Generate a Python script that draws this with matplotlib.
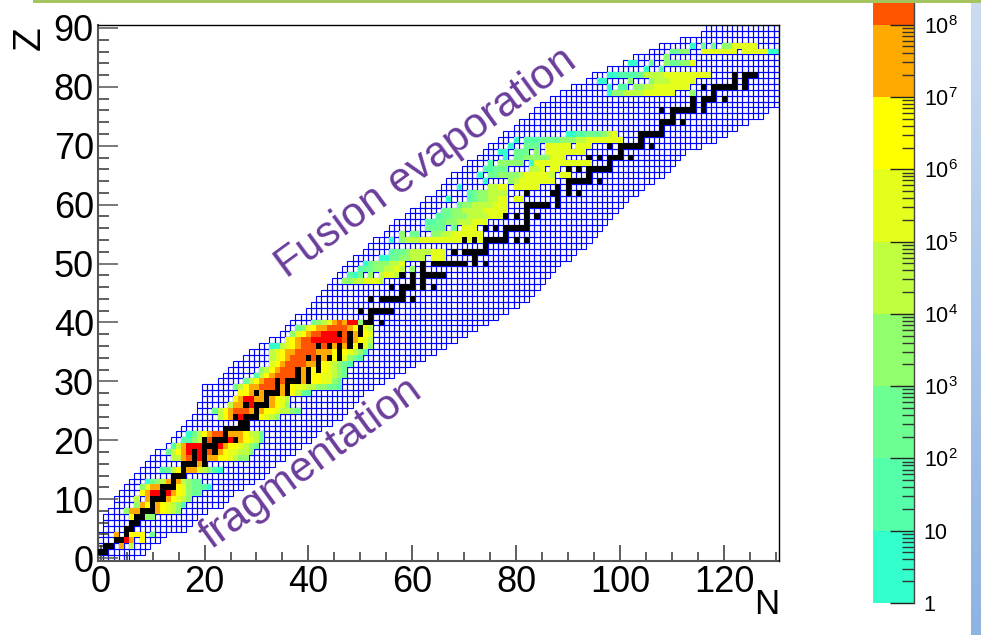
import numpy as np
import matplotlib
matplotlib.use("Agg")
import matplotlib.pyplot as plt
from matplotlib.colors import BoundaryNorm, ListedColormap, LinearSegmentedColormap
from matplotlib.patches import Rectangle
from matplotlib.ticker import FixedLocator, FuncFormatter, LogLocator, NullFormatter, MultipleLocator

plt.rcParams["font.family"] = ["Liberation Sans", "DejaVu Sans"]
plt.rcParams["mathtext.fontset"] = "custom"
plt.rcParams["mathtext.rm"] = "Liberation Sans"

W, H = 981, 635

# blue grid: first and last N for each Z = 0..90
grid_nmin = [0, 0, 0, 0, 0, 1, 1, 1, 2, 3, 3, 4, 5, 6, 7, 8, 9, 10, 11, 13, 14, 15, 16, 17, 18, 19, 19, 20, 20, 20,
             23, 24, 25, 26, 28, 29, 31, 33, 35, 36, 37, 38, 40, 41, 42, 43, 44, 45, 46, 47, 48, 49, 51, 52, 53, 55,
             56, 57, 59, 60, 62, 63, 65, 66, 67, 68, 70, 71, 73, 74, 75, 77, 78, 80, 81, 83, 84, 85, 87, 89, 91, 94,
             95, 98, 101, 103, 106, 108, 112, 116, 117]
grid_nmax = [6, 8, 9, 11, 12, 16, 17, 18, 20, 23, 24, 25, 27, 29, 31, 32, 33, 35, 37, 38, 40, 41, 42, 44, 46, 47, 48,
             49, 50, 52, 54, 56, 58, 60, 62, 64, 66, 68, 70, 72, 74, 76, 78, 80, 82, 83, 84, 85, 86, 87, 88, 90, 91,
             93, 94, 95, 96, 97, 98, 99, 100, 101, 103, 104, 106, 108, 109, 110, 111, 112, 115, 118, 120, 122, 124,
             127, 128, 130, 130, 130, 130, 130, 130, 130, 130, 130, 130, 130, 130, 130, 130]

# black cells
stable_z = list(range(1, 43)) + list(range(44, 83))
stable_n = [[0, 1], [1, 2], [3, 4], [5], [5, 6], [6, 7], [7, 8], [8, 9, 10], [10], [10, 11, 12], [12], [12, 13, 14],
            [14], [14, 15, 16], [16], [16, 17, 18, 20], [18, 20], [18, 20, 22], [20, 21, 22], [20, 22, 23, 24, 26],
            [24], [24, 25, 26, 27, 28], [27, 28], [26, 28, 29, 30], [30], [28, 30, 31, 32], [32],
            [30, 32, 33, 34, 36], [34, 36], [34, 36, 37, 38, 40], [38, 40], [38, 40, 42], [42], [40, 42, 44, 46],
            [46], [42, 44, 46, 48, 50], [48], [46, 48, 50], [50], [51, 52, 54], [52], [50, 52, 53, 54, 55, 56],
            [52, 54, 55, 56, 57, 58, 60], [58], [56, 58, 59, 60, 62, 64], [60, 62], [58, 60, 62, 63, 64, 65, 66],
            [62], [62, 64, 65, 66, 67, 68, 69, 70, 72, 74], [72], [68, 70, 71, 72, 73, 74], [74],
            [70, 72, 74, 75, 76, 77, 78, 80, 82], [78], [74, 76, 78, 79, 80, 81, 82], [82], [78, 80, 82, 84], [82],
            [82, 83, 84, 85, 86, 88], [88], [82, 87, 88, 90, 92], [88, 90], [90, 91, 92, 93, 94, 96], [94],
            [90, 92, 94, 95, 96, 97, 98], [98], [94, 96, 98, 99, 100, 102], [100], [98, 100, 101, 102, 103, 104, 106],
            [104], [104, 105, 106, 107, 108], [108], [108, 109, 110, 112], [110], [108, 110, 111, 112, 113, 114, 116],
            [114, 116], [114, 116, 117, 118, 120], [118], [116, 118, 119, 120, 121, 122, 124], [122, 124],
            [122, 124, 125, 126]]

# yields: one row per Z, first N of the row, then a digit per N = log10 bin ('.' = nothing)
yield_z = [2, 3, 4, 7, 8, 9, 10, 11, 12, 13, 15, 16, 17, 18, 19, 20, 21, 24, 25, 26, 27, 28, 29, 30, 31, 32, 33, 34,
           35, 36, 37, 38, 39, 40, 47, 48, 49, 50, 51, 52, 54, 55, 56, 57, 58, 59, 60, 61, 62, 63, 64, 65, 66, 67,
           68, 69, 70, 71, 72, 79, 80, 81, 82, 83, 84, 85, 86, 87]
yield_n0 = [4, 5, 3, 6, 5, 7, 7, 8, 8, 9, 12, 19, 14, 13, 14, 16, 17, 23, 22, 25, 26, 27, 26, 28, 30, 31, 33, 33,
            33, 33, 36, 37, 38, 41, 47, 48, 50, 51, 54, 56, 56, 58, 63, 63, 65, 66, 69, 67, 71, 69, 74, 73, 74, 75,
            78, 77, 79, 80, 90, 98, 98, 96, 98, 105, 102, 109, 110, 114]
yield_bins = ["7.4", "97.6", "7..666.2", "6..33", "377...76543", "376.765431", "4.7...76543", "6799.9765322",
              "3577...6532210", "02347.74322", "1246.7754310", "7", "4478.9.77665433", "24679.9.8.7655443",
              "147999...97665432", "1134.8...9.76542", "024678877776442", "467.9...6543", "24678887.76654432",
              "477.9...7653", "679977.7654", "667.7...7.6421", "24677888.7.6554433221", "246788.8...7.665532",
              "14678888.7.6655432", "3467888.7.6.65432", "5678888776654321", "4567888.8.7.6.5321",
              "4567788887776.65431", "004567888.8.7.7.6.53", "567889999998.7654", "356788999.8.7.65",
              "235677888876654", "2345787993",
              "33445554", "102.3.4554", "122334454.3", "02333445", "002233444.555", "12234444555",
              "0.3444555555555555", "3.22..3344555555", "2222.2.555", "112233444555", "1223334444555",
              "2233444455555", "2334444555", "0...12334455.55", "12334444", "0.....4455.55555",
              "0....345555555", "0.2233334555554.55", "11222....445.55", "1.33333.055555555555",
              "0.2233333555", "00.222.3.55555555", "0..222.55555.555", "0.1112222333445555555", "0011222345",
              "0334444555555...3", "0.11.33445555555", "00....3...344455555", "00111124444555555555", "0..1",
              "00..2..322335", "3", "2233..5555555.5555500", "0.2.2.3355555"]

bin_edges = [1, 1e1, 1e2, 1e3, 1e4, 1e5, 1e6, 1e7, 1e8, 2e8, 1e9]
bin_colors = ["#33ffcc", "#55ffaa", "#6dff91", "#91ff6d", "#bfff3f", "#e3ff1b", "#ffff00", "#ffaa00", "#ff5500", "#ff0000"]

n_edges = np.arange(-0.5, 131.5)
z_edges = np.arange(-0.5, 91.5)


def px_axes(x0, y0, x1, y1):
    return fig.add_axes([x0 / W, 1 - y1 / H, (x1 - x0) / W, (y1 - y0) / H])


fig = plt.figure(figsize=(W / 100, H / 100), dpi=100, facecolor="white")

# slide decoration on the right and on top
side = px_axes(971, 3, 981, 635)
side.imshow(np.linspace(0, 1, 200)[:, None], aspect="auto",
            cmap=LinearSegmentedColormap.from_list("side", ["#cbdcf0", "#8fb3e2"]))
side.axis("off")
fig.add_artist(Rectangle((33 / W, 1 - 2.6 / H), 1 - 33 / W, 2.6 / H, transform=fig.transFigure, color="#a5c35f", lw=0))

ax = px_axes(98, 25, 778.7, 561)
cmap = ListedColormap(bin_colors)
norm = BoundaryNorm(bin_edges, cmap.N)

# nuclide grid
for z, (a, b) in enumerate(zip(grid_nmin, grid_nmax)):
    ns = np.arange(a, b + 1)
    ax.bar(ns, 1.0, bottom=z - 0.5, width=1.0, fill=False, edgecolor="#0000ff", linewidth=0.8, zorder=1)

counts = np.full((91, 131), np.nan)
for z, n0, row in zip(yield_z, yield_n0, yield_bins):
    for i, ch in enumerate(row):
        if ch != ".":
            counts[z, n0 + i] = 10 ** (int(ch) + 0.1)
ax.pcolormesh(n_edges, z_edges, np.ma.masked_invalid(counts), cmap=cmap, norm=norm, zorder=2)

stable = np.full((91, 131), np.nan)
for z, ns in zip(stable_z, stable_n):
    stable[z, ns] = 1
ax.pcolormesh(n_edges, z_edges, np.ma.masked_invalid(stable), cmap=ListedColormap(["black"]), zorder=3)

ax.set_xlim(-0.5, 130.5)
ax.set_ylim(-0.5, 90.5)
ax.xaxis.set_major_locator(MultipleLocator(20))
ax.xaxis.set_minor_locator(MultipleLocator(5))
ax.yaxis.set_major_locator(MultipleLocator(10))
ax.yaxis.set_minor_locator(MultipleLocator(2))
ax.tick_params(axis="x", which="major", direction="in", length=11.5, width=1.1, color="#333333",
               labelsize=26, pad=3)
ax.tick_params(axis="x", which="minor", direction="in", length=6.5, width=1.1, color="#333333")
ax.tick_params(axis="y", which="major", direction="in", length=14.4, width=1.1, color="#555555",
               labelsize=26, pad=3)
ax.tick_params(axis="y", which="minor", direction="in", length=8, width=1.1, color="#333333")
for s in ["left", "bottom"]:
    ax.spines[s].set_linewidth(1.5)
    ax.spines[s].set_color("#555555")
for s in ["top", "right"]:
    ax.spines[s].set_linewidth(1.0)
    ax.spines[s].set_color("black")
    ax.spines[s].set_zorder(5)

fig.text(48 / W, 1 - 38 / H, "Z", rotation=90, fontsize=28, ha="right", va="center")
fig.text(767 / W, 1 - 605 / H, "N", fontsize=25, ha="center", va="center")

purple = "#6b3d9c"
fig.text(287 / W, 1 - 279 / H, "Fusion evaporation", color=purple, fontsize=30.6, rotation=36.2,
         rotation_mode="anchor", ha="left", va="baseline")
fig.text(211 / W, 1 - 550 / H, "fragmentation", color=purple, fontsize=31, rotation=36,
         rotation_mode="anchor", ha="left", va="baseline")

# colour scale
cax = px_axes(873, 3, 914, 603)
top = 10 ** 8.3
scale_edges = np.array([1, 1e1, 1e2, 1e3, 1e4, 1e5, 1e6, 1e7, 1e8, top])
cax.pcolormesh([0, 1], scale_edges, np.array(bin_edges[:9])[:, None] * 1.5, cmap=cmap, norm=norm)
cax.set_yscale("log")
cax.set_ylim(1, top)
cax.set_xticks([])
cax.yaxis.set_ticks_position("right")
cax.yaxis.set_major_locator(FixedLocator(scale_edges[:-1]))
cax.yaxis.set_minor_locator(LogLocator(base=10, subs=range(2, 10), numticks=12))
cax.yaxis.set_minor_formatter(NullFormatter())


def decade_label(v, pos):
    if v < 100:
        return f"{v:.0f}"
    return r"$\mathregular{10^{%d}}$" % round(np.log10(v))


cax.yaxis.set_major_formatter(FuncFormatter(decade_label))
cax.tick_params(axis="y", which="major", direction="in", length=17.3, width=1.0, color="#222222",
                labelsize=15.5, pad=7, right=True, left=False)
cax.tick_params(axis="y", which="minor", direction="in", length=8.6, width=1.0, color="#333333",
                right=True, left=False)
for s in ["left", "top", "bottom"]:
    cax.spines[s].set_visible(False)
cax.spines["right"].set_color("#444444")
cax.spines["right"].set_linewidth(1.0)

fig.savefig("out.png", dpi=100)
